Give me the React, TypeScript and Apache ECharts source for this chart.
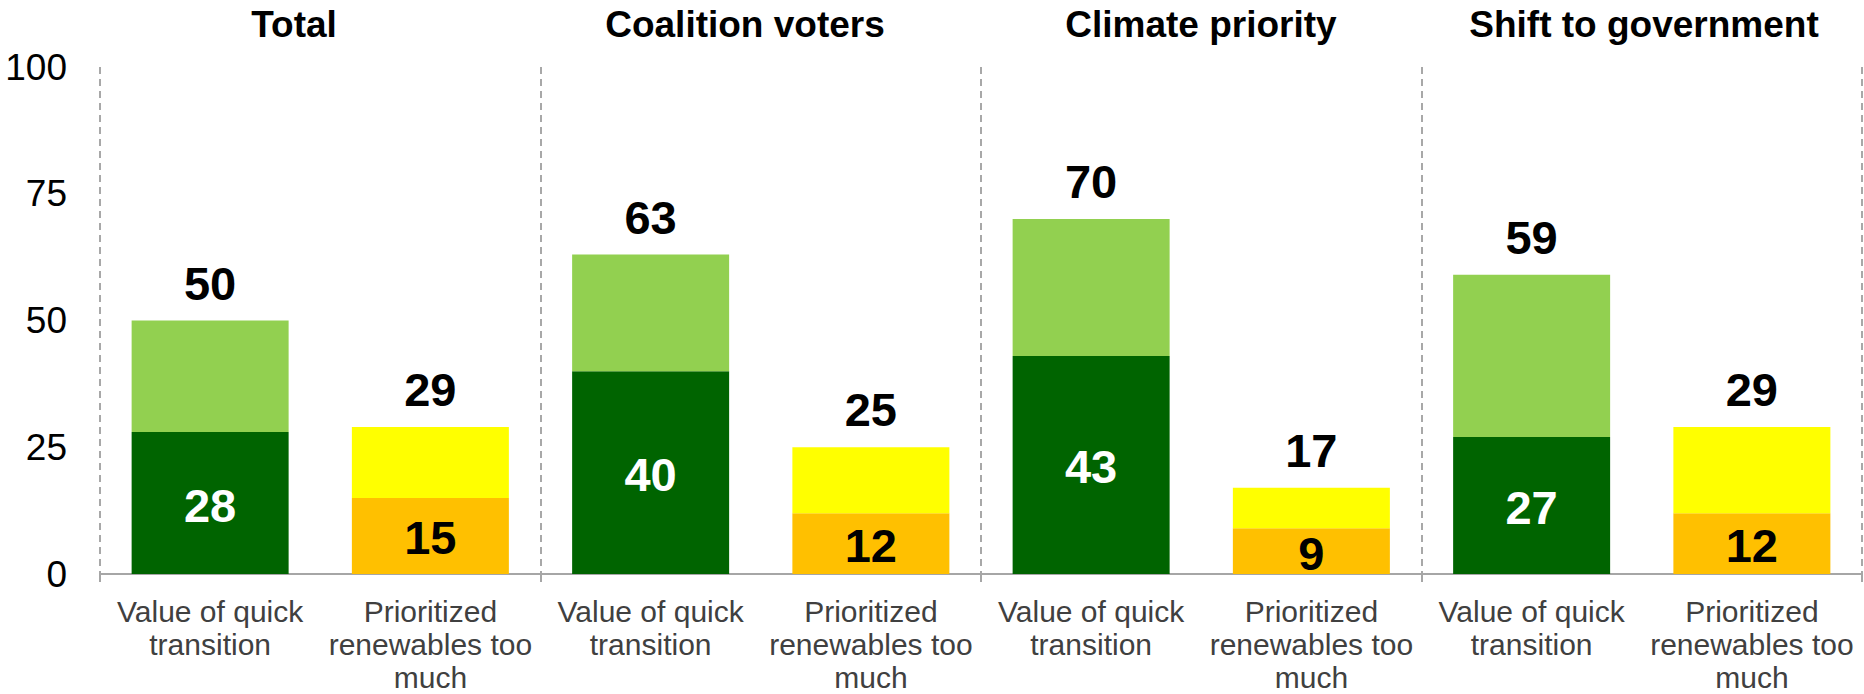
import React, { useEffect, useRef } from "react";
import * as echarts from "echarts";

// ---- data ----
const groups = ["Total", "Coalition voters", "Climate priority", "Shift to government"];
const categories = [
  "Value of quick\ntransition",
  "Prioritized\nrenewables too\nmuch",
  "Value of quick\ntransition",
  "Prioritized\nrenewables too\nmuch",
  "Value of quick\ntransition",
  "Prioritized\nrenewables too\nmuch",
  "Value of quick\ntransition",
  "Prioritized\nrenewables too\nmuch",
];
const totals = [50, 29, 63, 25, 70, 17, 59, 29];
const strong = [28, 15, 40, 12, 43, 9, 27, 12];
const yTicks = [0, 25, 50, 75, 100];

// ---- layout / style ----
const FONT = '"Liberation Sans", Arial, Helvetica, sans-serif';
const titleX = [294, 745, 1201, 1644];
const strongColors = ["#006400", "#FFC000"];
const weakColors = ["#92D050", "#FFFF00"];
const innerLabelColors = ["#FFFFFF", "#000000"];

export default function App() {
  const ref = useRef<HTMLDivElement>(null);
  useEffect(() => {
    if (!ref.current) return;
    const chart = echarts.init(ref.current, null, { renderer: "svg" });
    const option: any = {
      animation: false,
      grid: { left: 100, right: 2, top: 67, bottom: 114, containLabel: false },
      xAxis: [
        {
          type: "category",
          data: categories,
          axisLine: { show: true, lineStyle: { color: "#A6A6A6", width: 2 } },
          axisTick: { show: false },
          splitLine: { show: false },
          axisLabel: {
            interval: 0,
            color: "#404040",
            fontSize: 30,
            lineHeight: 33,
            margin: 21,
            fontFamily: FONT,
          },
        },
        {
          type: "value",
          min: 0,
          max: 8,
          interval: 2,
          position: "bottom",
          axisLine: { show: false },
          axisLabel: { show: false },
          axisTick: { show: true, length: 8, lineStyle: { color: "#A6A6A6", width: 2 } },
          splitLine: { show: true, lineStyle: { color: "#8C8C8C", type: [7, 5], width: 1.5 } },
        },
      ],
      yAxis: {
        type: "value",
        min: yTicks[0],
        max: yTicks[yTicks.length - 1],
        interval: yTicks[1] - yTicks[0],
        axisLine: { show: false },
        axisTick: { show: false },
        splitLine: { show: false },
        axisLabel: { color: "#000000", fontSize: 37, margin: 33, fontFamily: FONT },
      },
      series: [
        {
          type: "bar",
          stack: "s",
          xAxisIndex: 0,
          barWidth: 157,
          data: strong.map((v, i) => ({
            value: v,
            itemStyle: { color: strongColors[i % 2] },
            label: { color: innerLabelColors[i % 2] },
          })),
          label: {
            show: true,
            position: "inside",
            offset: [0, 2],
            fontSize: 47,
            fontWeight: "bold",
            fontFamily: FONT,
          },
        },
        {
          type: "bar",
          stack: "s",
          xAxisIndex: 0,
          barWidth: 157,
          data: totals.map((t, i) => ({
            value: t - strong[i],
            itemStyle: { color: weakColors[i % 2] },
          })),
          label: {
            show: true,
            position: "top",
            distance: 14,
            formatter: (p: any) => String(totals[p.dataIndex]),
            color: "#000000",
            fontSize: 47,
            fontWeight: "bold",
            fontFamily: FONT,
          },
        },
      ],
      graphic: groups.map((g, i) => ({
        type: "text",
        x: titleX[i],
        y: 24,
        style: {
          text: g,
          font: `bold 37px ${FONT}`,
          fill: "#000000",
          align: "center",
          verticalAlign: "middle",
        },
      })),
    };
    chart.setOption(option);
    return () => chart.dispose();
  }, []);
  return (
    <div
      ref={ref}
      style={{ position: "fixed", left: 0, top: 0, width: 1864, height: 694, background: "#fff" }}
    />
  );
}
